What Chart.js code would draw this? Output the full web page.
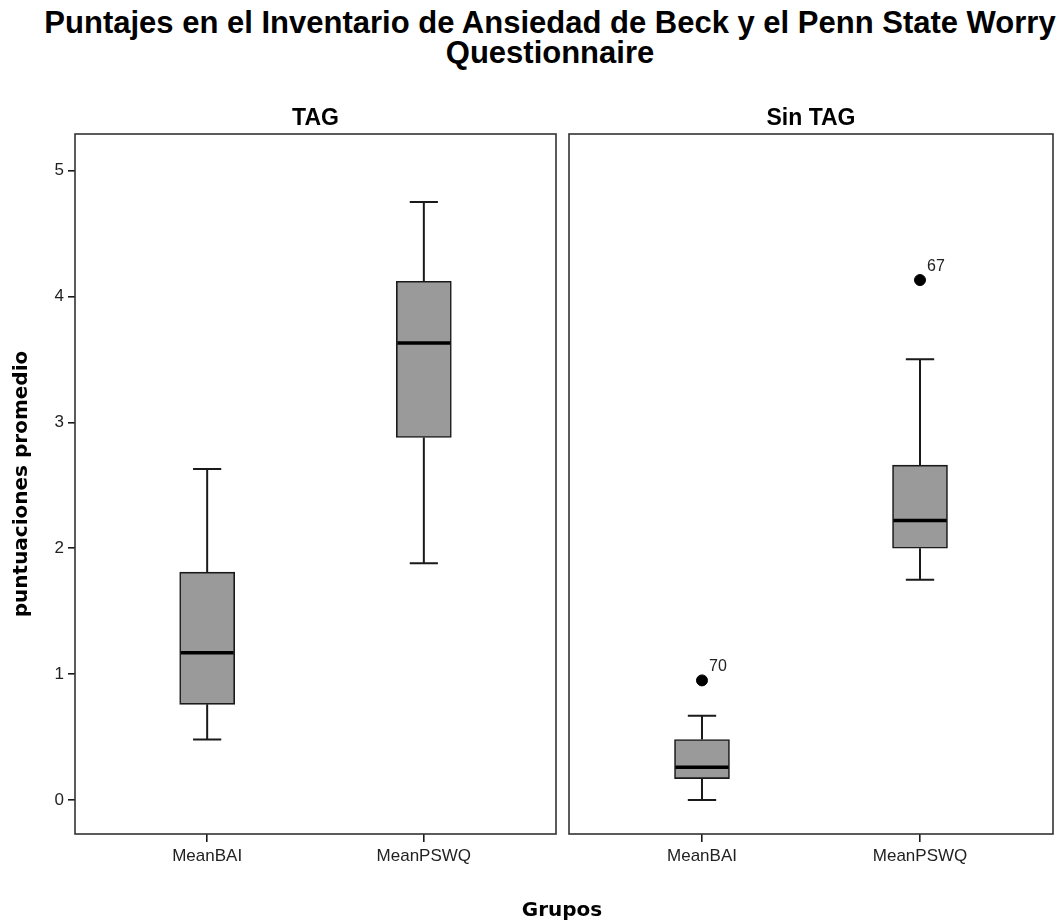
<!DOCTYPE html>
<html>
<head>
<meta charset="utf-8">
<script src="https://cdn.jsdelivr.net/npm/chart.js@4/dist/chart.umd.min.js"></script>
<style>
  html, body { margin: 0; padding: 0; background: #fff; width: 1060px; height: 922px; overflow: hidden; }
  .title-line { position: absolute; left: 0; width: 1100px; text-align: center; font: bold 31px "Liberation Sans", Arial, sans-serif; line-height: 31px; color: #000; white-space: nowrap; }
  #xTitle { position: absolute; left: 462px; width: 200px; top: 899px; text-align: center; font: bold 20px "DejaVu Sans", sans-serif; line-height: 20px; color: #000; }
  #leftPanel { position: absolute; left: 0; top: 0; width: 560px; height: 922px; }
  #rightPanel { position: absolute; left: 560px; top: 0; width: 500px; height: 922px; }
</style>
</head>
<body>
<div class="title-line" style="top:7px">Puntajes en el Inventario de Ansiedad de Beck y el Penn State Worry</div>
<div class="title-line" style="top:37px">Questionnaire</div>
<div id="leftPanel"><canvas id="tagChart"></canvas></div>
<div id="rightPanel"><canvas id="sinTagChart"></canvas></div>
<div id="xTitle">Grupos</div>
<script>
// Variables on the x axis and group panels
const categories = ['MeanBAI', 'MeanPSWQ'];
const panels = ['TAG', 'Sin TAG'];
const yTicks = [0, 1, 2, 3, 4, 5];

// TAG group: five-number summaries
const tagLow = [0.48, 1.88];
const tagQ1 = [0.76, 2.88];
const tagMedian = [1.17, 3.63];
const tagQ3 = [1.81, 4.12];
const tagHigh = [2.63, 4.75];

// Sin TAG group: five-number summaries
const sinLow = [0.00, 1.75];
const sinQ1 = [0.17, 2.00];
const sinMedian = [0.26, 2.22];
const sinQ3 = [0.48, 2.66];
const sinHigh = [0.67, 3.50];

// Sin TAG outliers (case numbers)
const sinOutliers = [0.95, 4.13];
const sinOutlierIds = ['70', '67'];

const FONT = '"Liberation Sans", Arial, sans-serif';
const INK = '#1a1a1a';

// Whiskers, caps and medians drawn through the chart scales
const boxplotParts = {
  id: 'boxplotParts',
  afterDatasetsDraw(chart, args, opts) {
    const { ctx, scales: { x, y } } = chart;
    ctx.save();
    ctx.lineCap = 'butt';
    opts.low.forEach((lo, i) => {
      const cx = x.getPixelForValue(i);
      const capHalf = x.getPixelForValue(i + 0.065) - cx;
      const boxHalf = x.getPixelForValue(i + 0.1267) - cx;
      ctx.strokeStyle = INK;
      ctx.lineWidth = 2;
      ctx.beginPath();
      ctx.moveTo(cx, y.getPixelForValue(opts.q3[i]));
      ctx.lineTo(cx, y.getPixelForValue(opts.high[i]));
      ctx.moveTo(cx, y.getPixelForValue(opts.q1[i]));
      ctx.lineTo(cx, y.getPixelForValue(lo));
      ctx.moveTo(cx - capHalf, y.getPixelForValue(opts.high[i]));
      ctx.lineTo(cx + capHalf, y.getPixelForValue(opts.high[i]));
      ctx.moveTo(cx - capHalf, y.getPixelForValue(lo));
      ctx.lineTo(cx + capHalf, y.getPixelForValue(lo));
      ctx.stroke();
      ctx.strokeStyle = '#000';
      ctx.lineWidth = 3.5;
      ctx.beginPath();
      ctx.moveTo(cx - boxHalf + 1, y.getPixelForValue(opts.median[i]));
      ctx.lineTo(cx + boxHalf - 1, y.getPixelForValue(opts.median[i]));
      ctx.stroke();
    });
    if (opts.ids) {
      ctx.fillStyle = '#222';
      ctx.font = '16px ' + FONT;
      ctx.textAlign = 'left';
      ctx.textBaseline = 'alphabetic';
      const meta = chart.getDatasetMeta(1);
      meta.data.forEach((pt, i) => {
        ctx.fillText(opts.ids[i], pt.x + 7, pt.y - 9);
      });
    }
    ctx.restore();
  }
};

// Panel frame around the plotting area
const panelFrame = {
  id: 'panelFrame',
  afterDraw(chart) {
    const { ctx, chartArea: a } = chart;
    ctx.save();
    ctx.strokeStyle = '#333';
    ctx.lineWidth = 1.6;
    ctx.strokeRect(a.left, a.top, a.right - a.left, a.bottom - a.top);
    ctx.restore();
  }
};

function makePanel(canvasId, title, low, q1, median, q3, high, outliers, ids, showY, padding) {
  const datasets = [{
    type: 'bar',
    data: categories.map((c, i) => ({ x: i, y: [q1[i], q3[i]] })),
    backgroundColor: '#9a9a9a',
    borderColor: INK,
    borderWidth: 1.6,
    borderSkipped: false,
    barThickness: 55,
    order: 2
  }];
  if (outliers) {
    datasets.push({
      type: 'scatter',
      data: outliers.map((v, i) => ({ x: i, y: v })),
      pointRadius: 5.5,
      pointBackgroundColor: '#000',
      pointBorderColor: '#000',
      order: 1
    });
  }
  return new Chart(document.getElementById(canvasId), {
    type: 'bar',
    data: { datasets },
    plugins: [boxplotParts, panelFrame],
    options: {
      responsive: true,
      maintainAspectRatio: false,
      animation: false,
      layout: { padding },
      plugins: {
        legend: { display: false },
        tooltip: { enabled: false },
        title: {
          display: true,
          text: title,
          fullSize: false,
          color: '#000',
          font: { family: FONT, size: 23, weight: 'bold', lineHeight: 1.2 },
          padding: { top: 0, bottom: 1.4 }
        },
        boxplotParts: { low, q1, median, q3, high, ids }
      },
      scales: {
        x: {
          type: 'linear',
          offset: false,
          min: -0.61,
          max: 1.61,
          afterBuildTicks: s => { s.ticks = categories.map((c, i) => ({ value: i })); },
          afterFit: s => { s.height = 88; },
          ticks: {
            autoSkip: false,
            maxRotation: 0,
            padding: 4,
            color: '#222',
            font: { family: FONT, size: 17 },
            callback: v => categories[v]
          },
          grid: { drawOnChartArea: false, drawTicks: true, tickLength: 8, color: INK, lineWidth: 1.6, offset: false },
          border: { display: false }
        },
        y: {
          display: showY,
          min: -0.27,
          max: 5.29,
          afterBuildTicks: s => { s.ticks = yTicks.map(v => ({ value: v })); },
          afterFit: s => { if (showY) s.width = 75; },
          ticks: {
            padding: 4,
            color: '#222',
            font: { family: FONT, size: 17 },
            callback: v => String(v)
          },
          grid: { drawOnChartArea: false, drawTicks: true, tickLength: 7, color: INK, lineWidth: 1.6 },
          border: { display: false },
          title: {
            display: showY,
            text: 'puntuaciones promedio',
            color: '#000',
            font: { family: '"DejaVu Sans", sans-serif', size: 20, weight: 'bold' },
            padding: { top: 10, bottom: 0 }
          }
        }
      }
    }
  });
}

makePanel('tagChart', panels[0], tagLow, tagQ1, tagMedian, tagQ3, tagHigh, null, null, true,
  { top: 105, right: 4, bottom: 0, left: 0 });
makePanel('sinTagChart', panels[1], sinLow, sinQ1, sinMedian, sinQ3, sinHigh, sinOutliers, sinOutlierIds, false,
  { top: 105, right: 7, bottom: 0, left: 9 });
</script>
</body>
</html>
